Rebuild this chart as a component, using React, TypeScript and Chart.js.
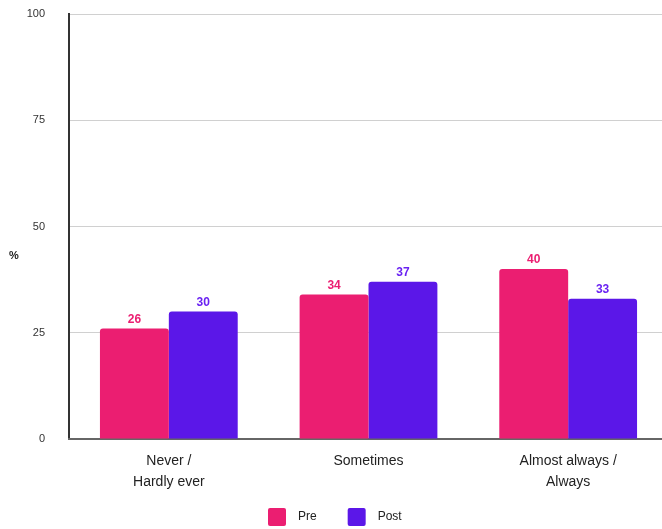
import React, { useEffect, useRef } from "react";
import { Chart, registerables } from "chart.js";

Chart.register(...registerables);

const categories: (string | string[])[] = [["Never /", "Hardly ever"], "Sometimes", ["Almost always /", "Always"]];
const preValues = [26, 34, 40];
const postValues = [30, 37, 33];
const yTicks = [0, 25, 50, 75, 100];
const seriesNames = ["Pre", "Post"];
const PINK = "#EB1E71";
const PURPLE = "#5B17E8";
const FONT = "'Liberation Sans', Arial, sans-serif";

const valueLabels = {
  id: "valueLabels",
  afterDatasetsDraw(chart: any) {
    const ctx = chart.ctx;
    ctx.save();
    ctx.font = `bold 12px ${FONT}`;
    ctx.textAlign = "center";
    ctx.textBaseline = "bottom";
    chart.data.datasets.forEach((ds: any, i: number) => {
      const meta = chart.getDatasetMeta(i);
      meta.data.forEach((bar: any, j: number) => {
        ctx.fillStyle = ds.labelColor;
        ctx.fillText(String(ds.data[j]), bar.x, bar.y - 3);
      });
    });
    ctx.restore();
  },
};

const percentTitle = {
  id: "percentTitle",
  afterDraw(chart: any) {
    const ctx = chart.ctx;
    ctx.save();
    ctx.font = `bold 11px ${FONT}`;
    ctx.fillStyle = "#222";
    ctx.textAlign = "center";
    ctx.textBaseline = "middle";
    ctx.fillText("%", 14, 256);
    ctx.restore();
  },
};

const customLegend = {
  id: "customLegend",
  afterDraw(chart: any) {
    const ctx = chart.ctx;
    ctx.save();
    ctx.font = `12px ${FONT}`;
    ctx.textBaseline = "middle";
    ctx.textAlign = "left";
    let x = 268;
    const yc = 517;
    chart.data.datasets.forEach((ds: any) => {
      ctx.fillStyle = ds.backgroundColor;
      ctx.beginPath();
      (ctx as any).roundRect(x, yc - 9, 18, 18, 2);
      ctx.fill();
      x += 18 + 12;
      ctx.fillStyle = "#222";
      ctx.fillText(ds.label, x, yc);
      x += ctx.measureText(ds.label).width + 31;
    });
    ctx.restore();
  },
};

export default function App() {
  const ref = useRef<HTMLCanvasElement>(null);
  useEffect(() => {
    document.body.style.margin = "0";
    document.body.style.overflow = "hidden";
    document.documentElement.style.overflow = "hidden";
    if (!ref.current) return;
    const chart = new Chart(ref.current, {
      type: "bar",
      data: {
        labels: categories,
        datasets: [
          { label: seriesNames[0], data: preValues, backgroundColor: PINK, borderRadius: { topLeft: 3, topRight: 3 }, borderSkipped: "bottom", labelColor: PINK } as any,
          { label: seriesNames[1], data: postValues, backgroundColor: PURPLE, borderRadius: { topLeft: 3, topRight: 3 }, borderSkipped: "bottom", labelColor: "#6A22F2" } as any,
        ],
      },
      plugins: [valueLabels, percentTitle, customLegend],
      options: {
        responsive: false,
        animation: false,
        devicePixelRatio: 1,
        layout: { padding: { top: 14, left: 0, right: 0, bottom: 0 } },
        datasets: { bar: { categoryPercentage: 0.69, barPercentage: 1.0 } },
        scales: {
          y: {
            min: 0,
            max: 100,
            afterFit: (s: any) => { s.width = 69; s.paddingTop = 0; s.paddingBottom = 0; },
            afterBuildTicks: (s: any) => { s.ticks = yTicks.map((v) => ({ value: v })); },
            ticks: { padding: 24, color: "#333", font: { size: 11, family: FONT } },
            grid: { color: "#d0d0d0", lineWidth: 1, drawTicks: false },
            border: { color: "#333", width: 2 },
          },
          x: {
            afterFit: (s: any) => { s.height = 90; s.paddingLeft = 0; s.paddingRight = 0; },
            ticks: { padding: 12, color: "#222", font: { size: 14, family: FONT, lineHeight: 1.5 } },
            grid: { display: false, drawTicks: false },
            border: { color: "#666", width: 2 },
          },
        },
        plugins: {
          legend: { display: false },
          tooltip: { enabled: false },
        },
      } as any,
    });
    return () => chart.destroy();
  }, []);
  return (
    <div style={{ width: 662, height: 529, overflow: "hidden" }}>
      <canvas ref={ref} width={668} height={529} style={{ display: "block" }} />
    </div>
  );
}
